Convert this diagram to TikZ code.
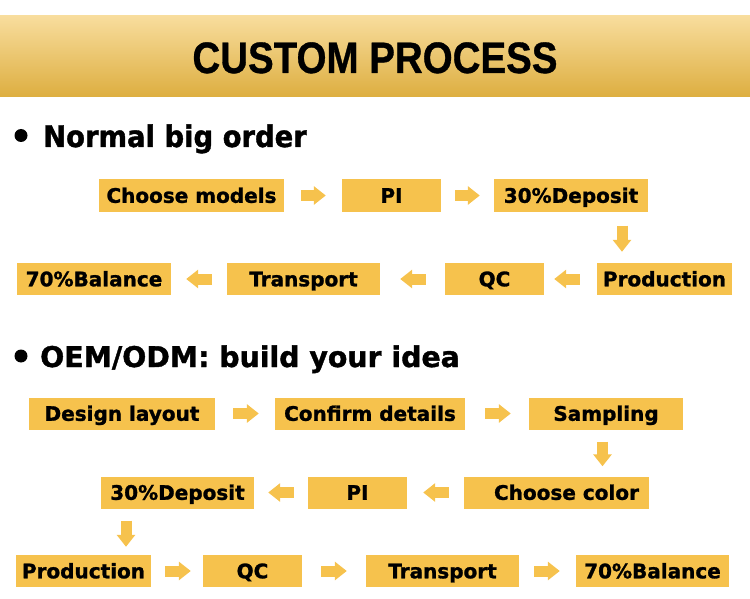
\documentclass[tikz,border=0pt]{standalone}
\usepackage{fontspec}
\setmainfont{DejaVu Sans}
\newfontfamily\libsans{Liberation Sans}
\newfontfamily\heavy{DejaVu Sans Bold}[FakeBold=1.3]
\newfontfamily\heavytitle{Liberation Sans Bold}[FakeBold=0.8]
\usetikzlibrary{arrows.meta}
\definecolor{boxcol}{HTML}{F6C24D}
\definecolor{headtop}{HTML}{F8DD9D}
\definecolor{headbot}{HTML}{DDAE40}
\tikzset{
  box/.style={fill=boxcol, inner sep=0pt, minimum height=32pt,
    text height=14.6pt, text depth=0pt,
    font=\heavy\fontsize{20}{24}\selectfont},
  blk/.style={draw=boxcol, line width=11pt, -{Triangle[width=18pt,length=12pt]}},
  bullet/.style={circle, fill=black, inner sep=0pt, minimum size=13pt},
}
\begin{document}
\begin{tikzpicture}[x=1pt,y=-1pt]
\useasboundingbox (0,0) rectangle (750,599);
% header band
\shade[top color=headtop, bottom color=headbot] (0,16) rectangle (750,97);
\node[anchor=base, inner sep=0pt, font=\heavytitle\fontsize{44}{48}\selectfont] (title) at (375,73) {\scalebox{0.875}[1]{CUSTOM PROCESS}};
% section 1
\node[bullet] (b1) at (21,135.5) {};
\node[anchor=base west, inner sep=0pt, font=\heavy\fontsize{29.8}{32}\selectfont] (s1) at (43,147) {\scalebox{0.92}[1]{Normal big order}};
% row 1
\node[box, minimum width=185pt] (cm) at (191.5,195.5) {Choose models};
\node[box, minimum width=99pt] (pi1) at (391.5,195.5) {PI};
\node[box, minimum width=154pt] (dep1) at (571,195.5) {30\%Deposit};
% row 2
\node[box, minimum width=154pt] (bal1) at (94,279) {70\%Balance};
\node[box, minimum width=153pt] (tr1) at (303.5,279) {Transport};
\node[box, minimum width=99pt] (qc1) at (494.5,279) {QC};
\node[box, minimum width=135pt] (prod1) at (664.5,279) {Production};
% connectors section 1
\draw[blk, shorten <=17pt, shorten >=16pt] (cm) -- (pi1);
\draw[blk, shorten <=14pt, shorten >=14pt] (pi1) -- (dep1);
\draw[blk, shorten <=14pt, shorten >=11pt] ([xshift=51pt]dep1.south) -- ([xshift=51pt]dep1.south |- prod1.north);
\draw[blk, shorten <=17pt, shorten >=10pt] (prod1) -- (qc1);
\draw[blk, shorten <=19pt, shorten >=20pt] (qc1) -- (tr1);
\draw[blk, shorten <=15pt, shorten >=15pt] (tr1) -- (bal1);
% section 2
\node[bullet] (b2) at (21,356) {};
\node[anchor=base west, inner sep=0pt, font=\heavy\fontsize{28.5}{32}\selectfont] (s2) at (40,367) {\scalebox{0.995}[1]{OEM/ODM: build your idea}};
% row 3
\node[box, minimum width=186pt] (dl) at (122,413.5) {Design layout};
\node[box, minimum width=190pt] (cd) at (370,413.5) {Confirm details};
\node[box, minimum width=154pt] (samp) at (606,413.5) {Sampling};
% row 4
\node[box, minimum width=153pt] (dep2) at (177.5,492.5) {30\%Deposit};
\node[box, minimum width=99pt] (pi2) at (357.5,492.5) {PI};
\node[box, minimum width=185pt] (cc) at (556.5,492.5) {\hspace*{20pt}Choose color};
% row 5
\node[box, minimum width=135pt] (prod2) at (83.5,571) {Production};
\node[box, minimum width=99pt] (qc2) at (252.5,571) {QC};
\node[box, minimum width=153pt] (tr2) at (442.5,571) {Transport};
\node[box, minimum width=153pt] (bal2) at (652.5,571) {70\%Balance};
% connectors section 2
\draw[blk, shorten <=18pt, shorten >=16pt] (dl) -- (cd);
\draw[blk, shorten <=20pt, shorten >=18pt] (cd) -- (samp);
\draw[blk, shorten <=12pt, shorten >=10pt] ([xshift=-3.5pt]samp.south) -- ([xshift=-3.5pt]samp.south |- cc.north);
\draw[blk, shorten <=15pt, shorten >=16pt] (cc) -- (pi2);
\draw[blk, shorten <=14pt, shorten >=14pt] (pi2) -- (dep2);
\draw[blk, shorten <=12pt, shorten >=8pt] ([xshift=-51.5pt]dep2.south) -- ([xshift=-51.5pt]dep2.south |- prod2.north);
\draw[blk, shorten <=14pt, shorten >=12pt] (prod2) -- (qc2);
\draw[blk, shorten <=19pt, shorten >=19pt] (qc2) -- (tr2);
\draw[blk, shorten <=15pt, shorten >=16pt] (tr2) -- (bal2);
\end{tikzpicture}
\end{document}
